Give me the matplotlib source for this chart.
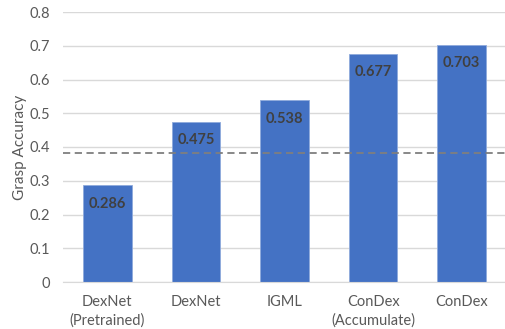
import matplotlib.pyplot as plt
import numpy as np

categories = ['DexNet\n(Pretrained)', 'DexNet', 'IGML', 'ConDex\n(Accumulate)', 'ConDex']
accuracy = [0.286, 0.475, 0.538, 0.677, 0.703]
baseline = 0.382
yticks = [0, 0.1, 0.2, 0.3, 0.4, 0.5, 0.6, 0.7, 0.8]

plt.rcParams['font.family'] = ['Lato', 'DejaVu Sans']
text_color = '#595959'

fig = plt.figure(figsize=(5.05, 3.29), dpi=100)
ax = fig.add_axes([63 / 505, 1 - 282 / 329, 443 / 505, 270 / 329])

x = np.arange(len(categories))
ax.bar(x, accuracy, width=0.55, color='#4472C4', edgecolor='#8FAADC', linewidth=0.6, zorder=2)

for xi, v in zip(x, accuracy):
    ax.annotate(f'{v:.3f}', (xi, v), xytext=(0, -8), textcoords='offset points',
                ha='center', va='top', fontsize=10.5, fontweight='bold', color='#404040', zorder=3)

ax.axhline(baseline, color='#7F7F7F', linestyle=(0, (4, 2.5)), linewidth=1.3, zorder=3, clip_on=False)

ax.set_xlim(-0.5, 4.5)
ax.set_ylim(0, 0.8)
ax.set_yticks(yticks)
ax.set_yticklabels(['0' if t == 0 else f'{t:.1f}' for t in yticks])
ax.set_xticks(x)
ax.set_xticklabels(categories, linespacing=1.45)
ax.yaxis.grid(True, color='#D9D9D9', linewidth=1, zorder=0)
ax.set_axisbelow(True)

for s in ['top', 'right', 'left']:
    ax.spines[s].set_visible(False)
ax.spines['bottom'].set_color('#D9D9D9')
ax.tick_params(axis='both', length=0, colors=text_color, labelsize=10.5)
ax.tick_params(axis='y', pad=9)
ax.tick_params(axis='x', pad=9)
ax.set_ylabel('Grasp Accuracy', color=text_color, fontsize=11, labelpad=2)

fig.savefig('out.png', dpi=100)
